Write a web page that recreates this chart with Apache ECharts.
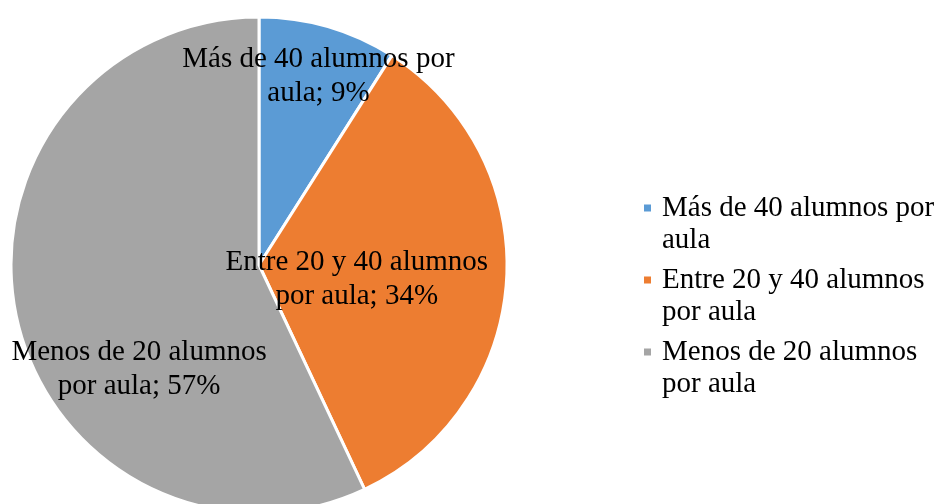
<!DOCTYPE html>
<html>
<head>
<meta charset="utf-8">
<script src="https://cdn.jsdelivr.net/npm/echarts@6/dist/echarts.min.js"></script>
<style>
  html, body { margin: 0; padding: 0; background: #fff; }
  #chart { width: 941px; height: 504px; }
</style>
</head>
<body>
<div id="chart"></div>
<script>
// names carry the same line break used in both the legend and the labels
const categories = ['Más de 40 alumnos por\naula', 'Entre 20 y 40 alumnos\npor aula', 'Menos de 20 alumnos\npor aula'];
const shares = [9, 34, 57];
const colors = ['#5B9BD5', '#ED7D31', '#A5A5A5'];

// nudges for the data labels, relative to the default inside spot
const labelShift = [[24, -67], [-29, 6], [4, 77]];

const font = '"Liberation Serif", "Times New Roman", serif';

const chart = echarts.init(document.getElementById('chart'));

chart.setOption({
    backgroundColor: '#fff',
    animation: false,
    color: colors,
    legend: {
        orient: 'vertical',
        left: 637,
        top: 155,
        itemWidth: 9,
        itemHeight: 9,
        itemGap: -24,
        icon: 'rect',
        // leading blank line keeps the square level with the first text line
        formatter: name => '\n' + name,
        textStyle: {
            fontFamily: font,
            fontSize: 29,
            color: '#000',
            lineHeight: 32,
            padding: [0, 0, 0, 5]
        },
        data: categories
    },
    series: [{
        type: 'pie',
        center: [259, 265],
        radius: 248,
        startAngle: 90,
        clockwise: true,
        itemStyle: { borderColor: '#fff', borderWidth: 3 },
        label: {
            position: 'inside',
            formatter: '{b}; {c}%',
            fontFamily: font,
            fontSize: 29,
            lineHeight: 34,
            color: '#000',
            align: 'center'
        },
        labelLine: { show: false },
        labelLayout: function (params) {
            const s = labelShift[params.dataIndex];
            return { dx: s[0], dy: s[1] };
        },
        emphasis: { disabled: true },
        data: categories.map((name, i) => ({ name: name, value: shares[i] }))
    }]
});
</script>
</body>
</html>
